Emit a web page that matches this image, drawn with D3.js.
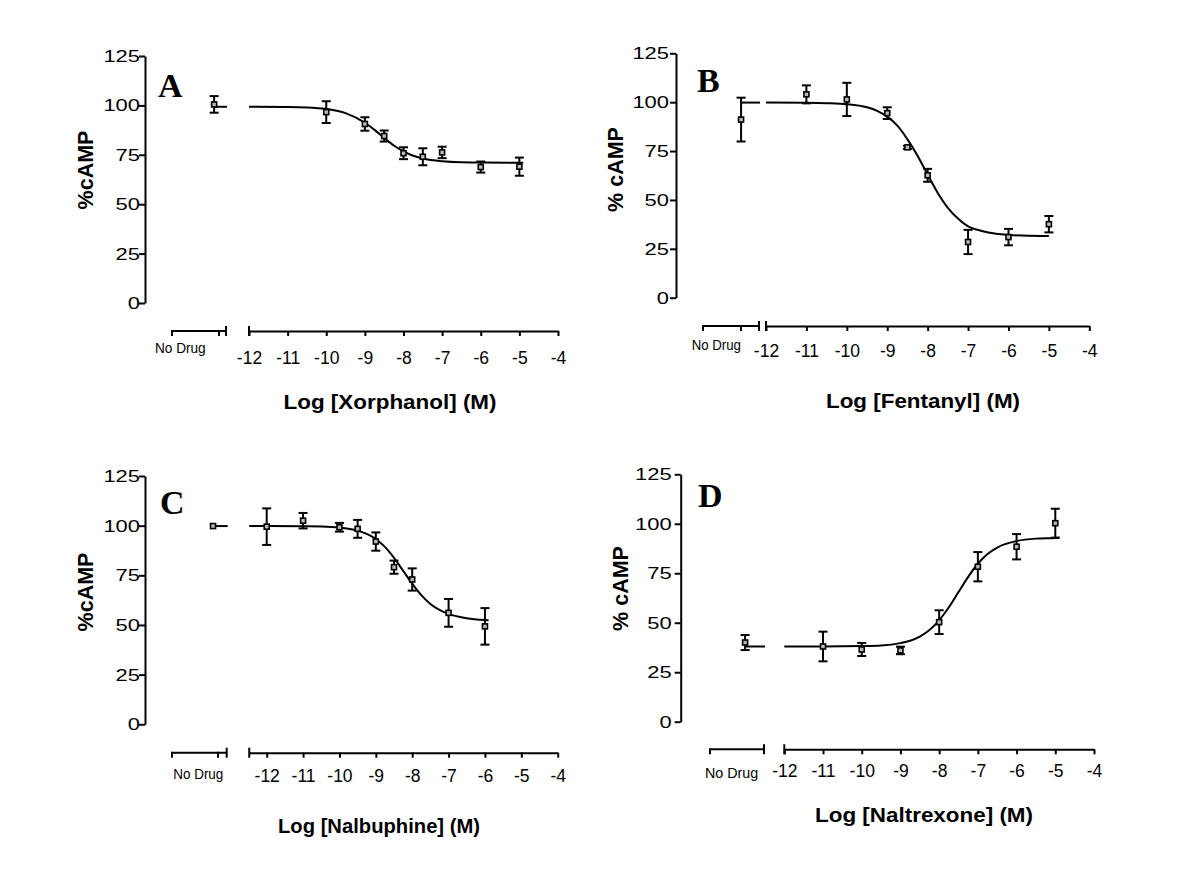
<!DOCTYPE html>
<html><head><meta charset="utf-8">
<script src="https://cdn.jsdelivr.net/npm/d3@7/dist/d3.min.js"></script>
<style>body{margin:0;background:#fff}svg{display:block}</style>
</head><body>
<svg id="chart" width="1199" height="872"></svg>
<script>
// ---------- labels ----------
const yTicks = [0, 25, 50, 75, 100, 125];
const xTicks = [-12, -11, -10, -9, -8, -7, -6, -5, -4];
const panelLetters = ["A", "B", "C", "D"];
const xTitles = ["Log [Xorphanol] (M)", "Log [Fentanyl] (M)", "Log [Nalbuphine] (M)", "Log [Naltrexone] (M)"];
const yTitles = ["%cAMP", "% cAMP", "%cAMP", "% cAMP"];
const noDrugLabel = "No Drug";

// ---------- data: mean ± SEM (% cAMP) at log[drug] ----------
const logA  = [-10, -9, -8.5, -8, -7.5, -7, -6, -5];
const meanA = [96.6, 90.6, 84.5, 75.8, 74.0, 76.2, 68.8, 69.0];
const semA  = [5.5, 3.4, 2.8, 3.0, 4.3, 2.9, 2.8, 4.6];
const noDrugA = [100.5, 4.2];

const logB  = [-11, -10, -9, -8.5, -8, -7, -6, -5];
const meanB = [104.0, 101.4, 94.4, 76.9, 62.6, 28.5, 31.0, 37.6];
const semB  = [4.6, 8.5, 3.0, 0.8, 3.3, 6.2, 4.2, 4.2];
const noDrugB = [91.1, 11.2];

const logC  = [-12, -11, -10, -9.5, -9, -8.5, -8, -7, -6];
const meanC = [99.5, 102.5, 99.2, 98.4, 92.0, 79.1, 72.9, 56.1, 49.3];
const semC  = [9.2, 3.9, 2.2, 4.5, 4.6, 3.3, 5.6, 7.0, 9.2];
const noDrugC = [99.8, 0];

const logD  = [-11, -10, -9, -8, -7, -6, -5];
const meanD = [38.0, 36.5, 36.0, 50.3, 78.3, 88.4, 100.3];
const semD  = [7.5, 3.3, 1.9, 6.0, 7.4, 6.4, 7.3];
const noDrugD = [40.0, 3.8];

// ---------- fitted curves ----------
const curveAx = [-12, -11, -10.5, -10, -9.5, -9, -8.75, -8.5, -8.25, -8, -7.75, -7.5, -7, -6.5, -6, -5, -4.9];
const curveAy = [99.3, 99.2, 99.0, 98.2, 96.1, 91.2, 87.6, 83.5, 79.7, 76.7, 74.5, 73.1, 71.7, 71.2, 71.1, 71.0, 71.0];

const curveBx = [-12, -11, -10.5, -10, -9.5, -9.25, -9, -8.75, -8.5, -8.25, -8, -7.75, -7.5, -7.25, -7, -6.75, -6.5, -6, -5.5, -5];
const curveBy = [99.8, 99.7, 99.5, 99.0, 97.4, 95.6, 92.6, 88.0, 81.0, 72.6, 62.9, 53.6, 46.0, 40.5, 36.5, 34.6, 33.3, 32.1, 31.7, 31.6];

const curveCx = [-12.48, -12, -11, -10.5, -10, -9.5, -9.25, -9, -8.75, -8.5, -8.25, -8, -7.75, -7.5, -7.25, -7, -6.5, -6, -5.9];
const curveCy = [99.8, 99.8, 99.7, 99.6, 99.1, 97.5, 95.9, 93.3, 89.3, 83.8, 77.3, 70.8, 65.0, 60.6, 57.6, 55.6, 53.4, 52.5, 52.4];

const curveDx = [-12, -11, -10, -9.5, -9, -8.75, -8.5, -8.25, -8, -7.75, -7.5, -7.25, -7, -6.75, -6.5, -6, -5.5, -5, -4.9];
const curveDy = [38.0, 38.0, 38.2, 38.5, 39.7, 40.9, 43.0, 46.3, 51.2, 57.8, 65.5, 73.2, 79.8, 84.7, 88.0, 91.3, 92.5, 92.8, 92.9];

const panelData = [
  {log: logA, mean: meanA, sem: semA, nd: noDrugA, cx: curveAx, cy: curveAy},
  {log: logB, mean: meanB, sem: semB, nd: noDrugB, cx: curveBx, cy: curveBy},
  {log: logC, mean: meanC, sem: semC, nd: noDrugC, cx: curveCx, cy: curveCy},
  {log: logD, mean: meanD, sem: semD, nd: noDrugD, cx: curveDx, cy: curveDy}
];

// ---------- layout (pixels) ----------
const layout = [
  {ox:145, yTop:56, yBot:303, axisY:331, x12:249, x4:558, axisStart:-12, ndStart:172, ndEnd:226, ndAlign:0.78, ndTick:219,
   yGap:5, xLab:21, letter:[158,97], yTitle:[92.5,170], title:[390,409,213], ndLab:[155,353.3,50.7]},
  {ox:676, yTop:53.3, yBot:297.7, axisY:326, x12:766, x4:1089.3, axisStart:-12, ndStart:703, ndEnd:759, ndAlign:0.68, ndTick:741,
   yGap:7, xLab:19, letter:[697,92], yTitle:[623,169.5], title:[923,407.5,194], ndLab:[691.7,350,49.3]},
  {ox:145, yTop:476, yBot:724.3, axisY:752.7, x12:266.7, x4:557.7, axisStart:-12.48, ndStart:172, ndEnd:226.7, ndAlign:0.75, ndTick:218,
   yGap:5, xLab:17.3, letter:[160,514], yTitle:[92.7,592], title:[379,832.5,202], ndLab:[173.3,779,50]},
  {ox:680.7, yTop:474.3, yBot:721.7, axisY:749.3, x12:784.3, x4:1094, axisStart:-12, ndStart:710, ndEnd:764, ndAlign:0.65, ndTick:null,
   yGap:9, xLab:15.7, letter:[698,507], yTitle:[628.3,588.5], title:[924,822,218], ndLab:[705,778,53.3]}
];

const svg = d3.select("#chart");
svg.append("rect").attr("width",1199).attr("height",872).attr("fill","#fff");
const SANS = "'Liberation Sans', Arial, Helvetica, sans-serif";
const SERIF = "'Liberation Serif', 'Times New Roman', serif";

panelData.forEach((pd, i) => {
  const L = layout[i];
  const g = svg.append("g");
  const y = d3.scaleLinear().domain([0, 125]).range([L.yBot, L.yTop]);
  const x = d3.scaleLinear().domain([-12, -4]).range([L.x12, L.x4]);
  const nd = d3.scalePoint().domain([noDrugLabel]).range([L.ndStart, L.ndEnd]).padding(0).align(L.ndAlign);

  // Y axis
  const ya = g.append("g").attr("transform", `translate(${L.ox},0)`)
    .call(d3.axisLeft(y).tickValues(yTicks).tickSize(6).tickSizeOuter(0).tickPadding(L.yGap - 6));
  ya.select(".domain").attr("stroke-width", 2);
  ya.selectAll(".tick line").attr("stroke-width", 2);
  ya.selectAll(".tick text").attr("font-family", SANS).attr("font-size", 17).attr("fill", "#000")
    .attr("textLength", d => String(d).length * 12.2).attr("lengthAdjust", "spacingAndGlyphs");

  // main X axis (log scale portion)
  const xAxisLine = d3.scaleLinear().domain([L.axisStart, -4]).range([x(L.axisStart), x(-4)]);
  const xa = g.append("g").attr("transform", `translate(0,${L.axisY})`)
    .call(d3.axisBottom(xAxisLine).tickValues(xTicks).tickSize(5).tickSizeOuter(0).tickPadding(L.xLab - 5).tickFormat(d3.format("d")));
  xa.select(".domain").attr("stroke-width", 2);
  xa.selectAll(".tick line").attr("stroke-width", 2);
  xa.selectAll(".tick text").attr("font-family", SANS).attr("font-size", 17.5).attr("fill", "#000")
    .text(d => "-" + Math.abs(d));

  // no-drug axis segment
  g.append("line").attr("x1", L.ndStart).attr("x2", L.ndEnd).attr("y1", L.axisY).attr("y2", L.axisY)
    .attr("stroke", "#000").attr("stroke-width", 2);
  const ndTicks = [L.ndStart].concat(L.ndTick == null ? [] : [L.ndTick]);
  g.selectAll(".ndtick").data(ndTicks).enter().append("line")
    .attr("x1", d => d).attr("x2", d => d).attr("y1", L.axisY - 1).attr("y2", L.axisY + 5)
    .attr("stroke", "#000").attr("stroke-width", 2);
  // break bars
  g.selectAll(".brk").data([L.ndEnd, xAxisLine(L.axisStart)]).enter().append("line")
    .attr("x1", d => d).attr("x2", d => d).attr("y1", L.axisY - 5).attr("y2", L.axisY + 5)
    .attr("stroke", "#000").attr("stroke-width", 2);
  g.append("text").attr("x", L.ndLab[0]).attr("y", L.ndLab[1]).text(noDrugLabel)
    .attr("font-family", SANS).attr("font-size", 14).attr("textLength", L.ndLab[2]).attr("lengthAdjust", "spacingAndGlyphs");

  // titles
  g.append("text").attr("x", L.title[0]).attr("y", L.title[1]).attr("text-anchor", "middle")
    .attr("font-family", SANS).attr("font-weight", "bold").attr("font-size", 20)
    .attr("textLength", L.title[2]).attr("lengthAdjust", "spacingAndGlyphs").text(xTitles[i]);
  g.append("text").attr("transform", `translate(${L.yTitle[0]},${L.yTitle[1]}) rotate(-90)`)
    .attr("text-anchor", "middle").attr("font-family", SANS).attr("font-weight", "bold").attr("font-size", 21.5)
    .text(yTitles[i]);
  g.append("text").attr("x", L.letter[0]).attr("y", L.letter[1])
    .attr("font-family", SERIF).attr("font-weight", "bold").attr("font-size", 34).text(panelLetters[i]);

  // fitted curve
  const line = d3.line().x(d => x(d[0])).y(d => y(d[1])).curve(d3.curveMonotoneX);
  const cpts = pd.cx.map((v, k) => [v, pd.cy[k]]);
  g.append("path").attr("d", line(cpts)).attr("fill", "none").attr("stroke", "#000").attr("stroke-width", 2);
  // plateau segment at no-drug
  g.append("line").attr("x1", nd(noDrugLabel)).attr("x2", L.ndEnd + 1)
    .attr("y1", y(pd.cy[0])).attr("y2", y(pd.cy[0]))
    .attr("stroke", "#000").attr("stroke-width", 2);

  // points with error bars
  const pts = pd.log.map((v, k) => ({px: x(v), m: pd.mean[k], s: pd.sem[k]}));
  pts.push({px: nd(noDrugLabel), m: pd.nd[0], s: pd.nd[1]});
  const pg = g.selectAll(".pt").data(pts).enter().append("g");
  pg.filter(d => d.s > 0).append("line").attr("x1", d => d.px).attr("x2", d => d.px)
    .attr("y1", d => y(d.m + d.s)).attr("y2", d => y(d.m - d.s)).attr("stroke", "#000").attr("stroke-width", 2);
  pg.filter(d => d.s > 0).selectAll(".cap").data(d => [[d.px, d.m + d.s], [d.px, d.m - d.s]]).enter().append("line")
    .attr("x1", d => d[0] - 4.5).attr("x2", d => d[0] + 4.5).attr("y1", d => y(d[1])).attr("y2", d => y(d[1]))
    .attr("stroke", "#000").attr("stroke-width", 2);
  pg.append("rect").attr("x", d => d.px - 2.5).attr("y", d => y(d.m) - 2.5).attr("width", 5).attr("height", 5)
    .attr("fill", "#bbb").attr("stroke", "#000").attr("stroke-width", 1.6);
});
</script>
</body></html>
